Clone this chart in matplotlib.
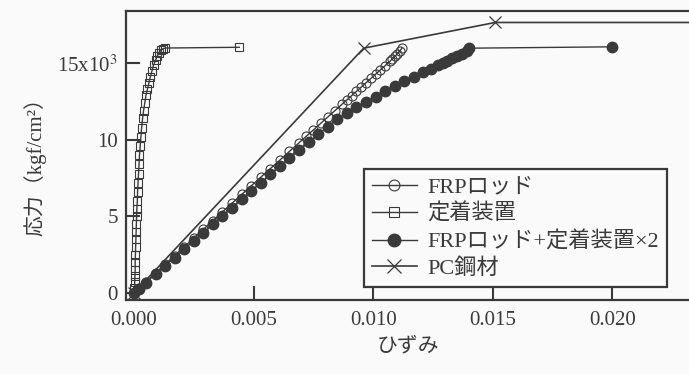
import matplotlib
matplotlib.use('Agg')
import matplotlib.pyplot as plt

# FRPロッド (open circles)
frp_strain = [0, 0.0002, 0.0005, 0.0009, 0.0013, 0.0017, 0.0021, 0.0025, 0.0029, 0.0033,
              0.0037, 0.0041, 0.0045, 0.0049, 0.0053, 0.0057, 0.0061, 0.0065, 0.0069, 0.0072,
              0.0075, 0.0078, 0.0081, 0.0084, 0.0087, 0.0089, 0.0091, 0.0093, 0.0095, 0.0097,
              0.0099, 0.0101, 0.0103, 0.0105, 0.0107, 0.0108, 0.0109, 0.0110, 0.0111, 0.0112]
frp_stress = [0, 290, 720, 1300, 1870, 2440, 3010, 3580, 4150, 4720,
              5290, 5860, 6430, 6990, 7560, 8120, 8680, 9250, 9810, 10230,
              10650, 11070, 11490, 11910, 12330, 12610, 12890, 13170, 13450, 13730,
              14010, 14290, 14570, 14850, 15130, 15290, 15450, 15610, 15780, 15990]

# 定着装置 (open squares)
anc_strain = [0, 0.00002, 0.00003, 0.00004, 0.00005, 0.00005, 0.00006, 0.00007, 0.00008, 0.00009,
              0.0001, 0.00011, 0.00012, 0.00014, 0.00015, 0.00017, 0.00019, 0.00021, 0.00023, 0.00026,
              0.00029, 0.00032, 0.00036, 0.0004, 0.00045, 0.0005, 0.00056, 0.00062, 0.00068, 0.00075,
              0.00082, 0.0009, 0.00098, 0.00105, 0.00112, 0.0012, 0.0013, 0.0044]
anc_stress = [0, 300, 700, 1100, 1500, 2000, 2500, 3000, 3500, 4000,
              4500, 5000, 5500, 6000, 6600, 7200, 7800, 8400, 9000, 9600,
              10200, 10800, 11400, 11900, 12400, 12900, 13300, 13700, 14100, 14500,
              14900, 15200, 15500, 15700, 15850, 15950, 16000, 16050]

# FRPロッド+定着装置×2 (filled circles)
comb_strain = [0, 0.0002, 0.0005, 0.0009, 0.0013, 0.0017, 0.0021, 0.0025, 0.0029, 0.0033,
               0.0037, 0.0041, 0.0045, 0.0049, 0.0053, 0.0057, 0.0061, 0.0065, 0.0069, 0.0073,
               0.0077, 0.0081, 0.0085, 0.0089, 0.0093, 0.0097, 0.0101, 0.0105, 0.0109, 0.0113,
               0.0117, 0.0121, 0.0124, 0.0127, 0.0129, 0.0131, 0.0133, 0.0135, 0.0137, 0.0139,
               0.0140, 0.0200]
comb_stress = [0, 270, 680, 1220, 1770, 2310, 2860, 3400, 3940, 4490,
               5030, 5580, 6120, 6660, 7200, 7740, 8270, 8800, 9320, 9840,
               10360, 10870, 11370, 11760, 12120, 12480, 12830, 13170, 13500, 13820,
               14130, 14430, 14660, 14880, 15030, 15180, 15330, 15480, 15640, 15820,
               15990, 16080]

# PC鋼材 (crosses)
pc_strain = [0, 0.0096, 0.0151, 0.025]
pc_stress = [0, 15990, 17670, 17670]

x_ticks = [0.000, 0.005, 0.010, 0.015, 0.020]
x_ticklabels = ['0.000', '0.005', '0.010', '0.015', '0.020']
y_ticks = [0, 5000, 10000, 15000]
y_ticklabels = ['0', '5', '10', '15x10$^3$']

plt.rcParams['font.family'] = ['Liberation Serif', 'Noto Sans CJK JP']
plt.rcParams['mathtext.fontset'] = 'stix'

ink = '#3a3a3a'
fig = plt.figure(figsize=(6.89, 3.74), dpi=100, facecolor='#fafafa')
ax = fig.add_axes([0.183, 0.198, 0.817, 0.773])
ax.set_facecolor('#fafafa')

ax.plot(frp_strain, frp_stress, color=ink, lw=1.0, marker='o', ms=6.5,
        mfc='none', mec=ink, mew=0.8, label='FRPロッド')
ax.plot(anc_strain, anc_stress, color=ink, lw=1.0, marker='s', ms=5.5,
        mfc='none', mec=ink, mew=0.8, label='定着装置')
ax.plot(comb_strain, comb_stress, color=ink, lw=1.0, marker='o', ms=7.5,
        mfc=ink, mec=ink, label='FRPロッド+定着装置×2')
ax.plot(pc_strain, pc_stress, color=ink, lw=1.2, marker='x', ms=8,
        mec=ink, mew=0.9, label='PC鋼材')

ax.set_xlim(-0.00033, 0.0232)
ax.set_ylim(-460, 18430)
ax.set_xticks(x_ticks)
ax.set_xticklabels(x_ticklabels)
ax.set_yticks(y_ticks)
ax.set_yticklabels(y_ticklabels)
ax.tick_params(direction='in', length=10, width=1.5, colors=ink, labelsize=15)
ax.tick_params(axis='x', pad=8)
ax.tick_params(axis='y', pad=6)

for side in ['left', 'bottom', 'top']:
    ax.spines[side].set_linewidth(1.6)
    ax.spines[side].set_color(ink)
ax.spines['right'].set_visible(False)

ax.set_xlabel('ひずみ', fontsize=15, color=ink)
ax.xaxis.label.set_va('center')
ax.xaxis.set_label_coords(0.5, -0.163)
ax.set_ylabel('応力（kgf/cm²）', fontsize=15, color=ink)
ax.yaxis.label.set_va('center')
ax.yaxis.set_label_coords(-0.162, 0.48)

leg = ax.legend(loc='lower right', bbox_to_anchor=(0.961, 0.045), borderaxespad=0,
                fontsize=16, frameon=True, fancybox=False, handlelength=2.0,
                handletextpad=0.5, labelspacing=0.28, borderpad=0.35, markerscale=1.2)
leg.get_frame().set_edgecolor(ink)
leg.get_frame().set_linewidth(1.6)
leg.get_frame().set_facecolor('#fafafa')
leg.get_frame().set_alpha(1)
for t in leg.get_texts():
    t.set_color(ink)

fig.savefig('out.png', dpi=100, facecolor=fig.get_facecolor())
